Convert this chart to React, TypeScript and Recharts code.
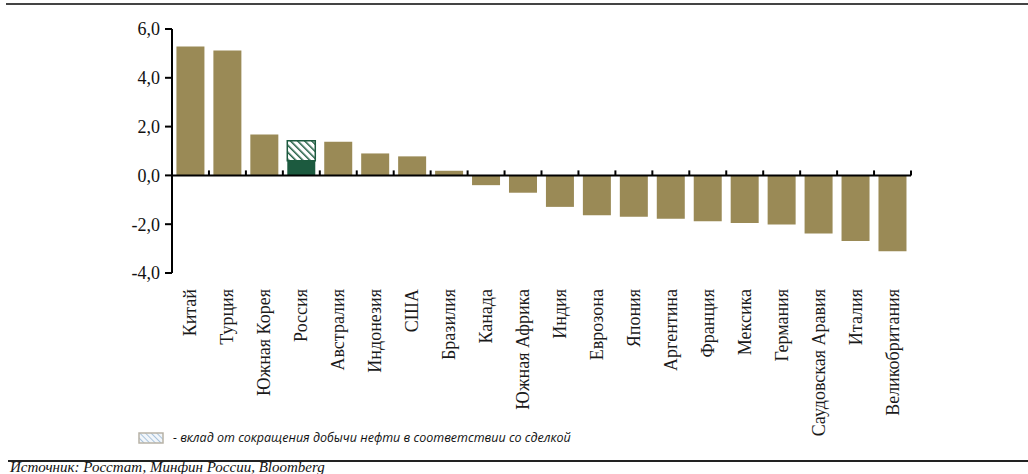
import React from 'react'
import { BarChart, Bar, XAxis, YAxis, Cell, ReferenceLine } from 'recharts'

const countries = [
  'Китай', 'Турция', 'Южная Корея', 'Россия', 'Австралия', 'Индонезия', 'США', 'Бразилия',
  'Канада', 'Южная Африка', 'Индия', 'Еврозона', 'Япония', 'Аргентина', 'Франция', 'Мексика',
  'Германия', 'Саудовская Аравия', 'Италия', 'Великобритания'
]
const baseValues = [
  5.28, 5.12, 1.68, 0.6, 1.38, 0.9, 0.78, 0.19,
  -0.4, -0.71, -1.29, -1.63, -1.69, -1.78, -1.88, -1.95,
  -2.01, -2.38, -2.69, -3.11
]
const dealValues = [
  0, 0, 0, 0.82, 0, 0, 0, 0,
  0, 0, 0, 0, 0, 0, 0, 0,
  0, 0, 0, 0
]
const yTicks = [-4, -2, 0, 2, 4, 6]
const legendText = '- вклад от сокращения добычи нефти в соответствии со сделкой'
const sourceText = 'Источник: Росстат, Минфин России, Bloomberg'

const data = countries.map((name, i) => ({ name, base: baseValues[i], deal: dealValues[i] }))

const OLIVE = '#9a8a56'
const GREEN = '#1c5a3f'
const SERIF = "'Liberation Serif', serif"

const CountryTick = ({ x, y, payload }: any) => (
  <text
    x={x + 6}
    y={y + 8}
    transform={`rotate(-90 ${x + 6} ${y + 8})`}
    textAnchor="end"
    fontFamily={SERIF}
    fontSize={18}
    fill="#1a1a1a"
  >
    {payload.value}
  </text>
)

const ZeroAxis = (props: any) => {
  const { x1, y1, x2 } = props
  const step = (x2 - x1) / countries.length
  const marks = Array.from({ length: countries.length + 1 }, (_, i) => x1 + i * step)
  return (
    <g>
      <line x1={x1} y1={y1} x2={x2} y2={y1} stroke="#000" strokeWidth={2} />
      {marks.map((mx, i) => (
        <line key={i} x1={mx} y1={y1} x2={mx} y2={y1 - 5} stroke="#000" strokeWidth={2} />
      ))}
    </g>
  )
}

export default function App() {
  return (
    <div style={{ position: 'absolute', left: 0, top: 0, width: 1028, height: 474, background: '#fff', overflow: 'hidden' }}>
      <div style={{ position: 'absolute', left: 6, right: 0, top: 3, height: 2, background: '#444' }} />
      <div style={{ position: 'absolute', left: 8, right: 0, top: 460, height: 2, background: '#222' }} />
      <div
        style={{
          position: 'absolute', left: 10, top: 461, fontFamily: SERIF, lineHeight: '13px',
          fontStyle: 'italic', fontSize: 15, color: '#111', whiteSpace: 'nowrap'
        }}
      >
        {sourceText}
      </div>

      {/* legend for the hatched part */}
      <div style={{ position: 'absolute', left: 138, top: 431, display: 'flex', alignItems: 'center' }}>
        <svg width={26} height={12} style={{ marginRight: 9 }}>
          <defs>
            <pattern id="legendHatch" width="4" height="4" patternUnits="userSpaceOnUse" patternTransform="rotate(-45)">
              <rect width="4" height="4" fill="#f2f6fa" />
              <line x1="0" y1="0" x2="0" y2="4" stroke="#a9c3dc" strokeWidth={2} />
            </pattern>
          </defs>
          <rect x={1} y={1} width={24} height={10} fill="url(#legendHatch)" stroke="#b8b3a6" strokeWidth={1.5} />
        </svg>
        <span style={{ fontFamily: "'Open Sans', sans-serif", fontStyle: 'italic', fontSize: 12.5, color: '#111', lineHeight: '14px' }}>
          {legendText}
        </span>
      </div>

      <BarChart
        width={1028}
        height={474}
        data={data}
        margin={{ top: 29, right: 117, left: 112, bottom: 0 }}
        barCategoryGap="12%"
      >
        <defs>
          <pattern id="dealHatch" width="5" height="5" patternUnits="userSpaceOnUse" patternTransform="rotate(-45)">
            <rect width="5" height="5" fill="#ffffff" />
            <line x1="0" y1="0" x2="0" y2="5" stroke={GREEN} strokeWidth={3} />
          </pattern>
        </defs>
        <XAxis
          dataKey="name"
          height={201}
          axisLine={false}
          tickLine={false}
          interval={0}
          tick={<CountryTick />}
        />
        <YAxis
          domain={[-4, 6]}
          ticks={yTicks}
          width={60}
          interval={0}
          axisLine={{ stroke: '#000', strokeWidth: 2 }}
          tickLine={{ stroke: '#000', strokeWidth: 2 }}
          tickSize={7}
          tickMargin={5}
          tickFormatter={(v: number) => v.toFixed(1).replace('.', ',')}
          tick={{ fontFamily: SERIF, fontSize: 18, fill: '#111' }}
        />
        <Bar dataKey="base" stackId="a" isAnimationActive={false}>
          {data.map((d, i) => (
            <Cell key={i} fill={d.name === 'Россия' ? GREEN : OLIVE} />
          ))}
        </Bar>
        <Bar
          dataKey="deal"
          stackId="a"
          fill="url(#dealHatch)"
          stroke={GREEN}
          strokeWidth={1.5}
          isAnimationActive={false}
        />
        <ReferenceLine y={0} shape={<ZeroAxis />} ifOverflow="extendDomain" />
      </BarChart>
    </div>
  )
}
